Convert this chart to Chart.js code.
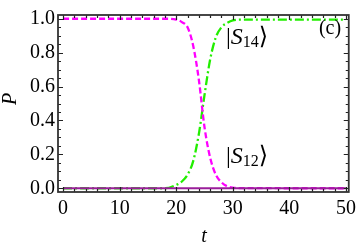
<!DOCTYPE html>
<html>
<head>
<meta charset="utf-8">
<script src="https://cdn.jsdelivr.net/npm/chart.js@4"></script>
<style>
  html, body { margin: 0; padding: 0; background: #fff; }
  #wrap { width: 361px; height: 249px; position: relative; }
</style>
</head>
<body>
<div id="wrap"><canvas id="popChart"></canvas></div>
<script>
// values
var tS12 = [0, 18, 20, 21, 22, 23, 24, 25, 26, 27, 28, 29, 30, 32, 50];
var pS12 = [1, 1, 0.995, 0.98, 0.95, 0.84, 0.64, 0.36, 0.18, 0.08, 0.035, 0.012, 0.004, 0.001, 0];
var tS14 = [0, 18, 20, 21, 22, 23, 24, 25, 26, 27, 28, 29, 30, 32, 50];
var pS14 = [0, 0, 0.02, 0.04, 0.08, 0.16, 0.32, 0.55, 0.76, 0.89, 0.95, 0.975, 0.99, 0.995, 0.995];
var tRest = [0, 50];
var pRest = [0, 0];
var xTicks = [0, 10, 20, 30, 40, 50];
var yTicks = [0, 0.2, 0.4, 0.6, 0.8, 1.0];

function pts(ts, ps) {
  return ts.map(function(t, i){ return { x: t, y: ps[i] }; });
}

var SERIF = '"Liberation Serif", "DejaVu Serif", serif';

var frameTicks = {
  id: 'frameTicks',
  afterDraw: function(chart) {
    var ctx = chart.ctx, a = chart.chartArea;
    var xs = chart.scales.x, ys = chart.scales.y;
    ctx.save();
    ctx.strokeStyle = '#222';
    ctx.lineWidth = 1.2;
    var v, px;
    for (v = 0; v <= 50; v += 2) {
      px = Math.round(xs.getPixelForValue(v)) + 0.5;
      var len = (v % 10 === 0) ? 5 : 3;
      ctx.beginPath();
      ctx.moveTo(px, a.bottom); ctx.lineTo(px, a.bottom - len);
      ctx.moveTo(px, a.top); ctx.lineTo(px, a.top + len);
      ctx.stroke();
    }
    for (v = 0; v <= 20; v += 1) {
      px = Math.round(ys.getPixelForValue(v * 0.05)) + 0.5;
      var l2 = (v % 4 === 0) ? 5 : 3;
      ctx.beginPath();
      ctx.moveTo(a.left, px); ctx.lineTo(a.left + l2, px);
      ctx.moveTo(a.right, px); ctx.lineTo(a.right - l2, px);
      ctx.stroke();
    }
    ctx.lineWidth = 1.8;
    ctx.strokeStyle = '#333';
    ctx.strokeRect(a.left, a.top, a.right - a.left, a.bottom - a.top);

    // axis titles
    ctx.fillStyle = '#000';
    ctx.font = 'italic 20px ' + SERIF;
    ctx.textAlign = 'center';
    ctx.textBaseline = 'alphabetic';
    ctx.fillText('t', 204, 242);
    ctx.save();
    ctx.translate(16, 99);
    ctx.rotate(-Math.PI / 2);
    ctx.fillText('P', 0, 0);
    ctx.restore();

    ctx.font = '20px ' + SERIF;
    ctx.fillText('(c)', 330, 34);

    function ket(x, base, sub) {
      ctx.textAlign = 'left';
      ctx.font = '24px ' + SERIF;
      ctx.fillText('|', x, base);
      x += ctx.measureText('|').width;
      ctx.font = 'italic 24px ' + SERIF;
      ctx.fillText('S', x, base);
      x += ctx.measureText('S').width;
      ctx.font = '16px ' + SERIF;
      ctx.fillText(sub, x, base + 3);
      x += ctx.measureText(sub).width;
      ctx.font = '24px ' + SERIF;
      ctx.fillText('\u27E9', x, base);
    }
    ket(226, 44, '14');
    ket(226, 163, '12');
    ctx.restore();
  }
};

new Chart(document.getElementById('popChart'), {
  type: 'line',
  data: {
    datasets: [
      { data: pts(tRest, pRest), borderColor: '#9a1e9a', borderWidth: 2.2, pointRadius: 0 },
      { data: pts(tS12, pS12), borderColor: '#ff00ff', borderWidth: 2.3, borderDash: [6, 3], pointRadius: 0, cubicInterpolationMode: 'monotone' },
      { data: pts(tS14, pS14), borderColor: '#22ee00', borderWidth: 2.3, borderDash: [9, 3, 2, 3], pointRadius: 0, cubicInterpolationMode: 'monotone' }
    ]
  },
  options: {
    responsive: true,
    maintainAspectRatio: false,
    animation: false,
    layout: { padding: { left: 0, right: 8, top: 7, bottom: 0 } },
    plugins: { legend: { display: false }, tooltip: { enabled: false } },
    scales: {
      x: {
        type: 'linear', min: -0.9, max: 50.5,
        grid: { display: false, drawTicks: false },
        border: { display: false },
        afterBuildTicks: function(s){ s.ticks = xTicks.map(function(v){ return { value: v }; }); },
        afterFit: function(s){ s.height = 57; },
        ticks: { color: '#000', font: { family: SERIF, size: 20 }, padding: 5, maxRotation: 0,
          callback: function(v){ return String(v); } }
      },
      y: {
        type: 'linear', min: -0.022, max: 1.022,
        grid: { display: false, drawTicks: false },
        border: { display: false },
        afterBuildTicks: function(s){ s.ticks = yTicks.map(function(v){ return { value: v }; }); },
        afterFit: function(s){ s.width = 58; },
        ticks: { color: '#000', font: { family: SERIF, size: 20 }, padding: 3,
          callback: function(v){ return Number(v).toFixed(1); } }
      }
    }
  },
  plugins: [frameTicks]
});
</script>
</body>
</html>
